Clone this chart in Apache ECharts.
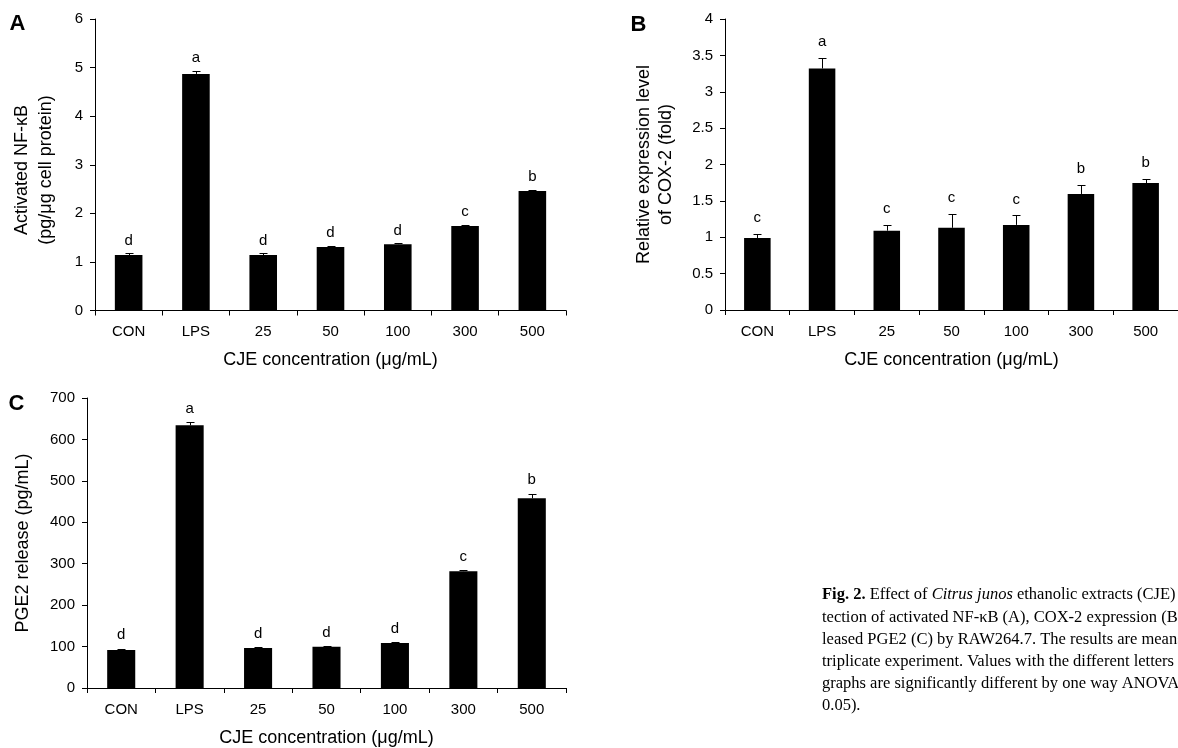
<!DOCTYPE html>
<html><head><meta charset="utf-8">
<script src="https://cdn.jsdelivr.net/npm/echarts@6/dist/echarts.min.js"></script>
<style>html,body{margin:0;padding:0;background:#fff;}#c{width:1178px;height:748px;}</style>
</head><body><div id="c"></div>
<script>
// ---- data ----
const categories = ['CON', 'LPS', '25', '50', '100', '300', '500'];
const xTitle = 'CJE concentration (μg/mL)';

const nfkbValues  = [1.14, 4.87, 1.14, 1.305, 1.365, 1.74, 2.46];
const nfkbErr     = [0.035, 0.06, 0.035, 0.025, 0.015, 0.015, 0.03];
const nfkbLetters = ['d', 'a', 'd', 'd', 'd', 'c', 'b'];

const cox2Values  = [0.99, 3.32, 1.09, 1.13, 1.17, 1.595, 1.745];
const cox2Err     = [0.05, 0.14, 0.075, 0.19, 0.13, 0.125, 0.055];
const cox2Letters = ['c', 'a', 'c', 'c', 'c', 'b', 'b'];

const pge2Values  = [91.5, 634, 96.5, 99.5, 108.5, 282, 458];
const pge2Err     = [3, 7, 2, 1.5, 1.5, 2, 11];
const pge2Letters = ['d', 'a', 'd', 'd', 'd', 'c', 'b'];

const yAxisA = { min: 0, max: 6, interval: 1 };
const yAxisB = { min: 0, max: 4, interval: 0.5 };
const yAxisC = { min: 0, max: 700, interval: 100 };

const captionLines = [
  '{b|Fig. 2.} Effect of {i|Citrus junos} ethanolic extracts (CJE) on the de-',
  'tection of activated NF-κB (A), COX-2 expression (B), and re-',
  'leased PGE2 (C) by RAW264.7. The results are means ± SD of',
  'triplicate experiment. Values with the different letters above',
  'graphs are significantly different by one way ANOVA test (p <',
  '0.05).'
];

// ---- chart ----
const FONT = '"Liberation Sans", Arial, Helvetica, sans-serif';
const SERIF = '"Liberation Serif", "Times New Roman", serif';
const chart = echarts.init(document.getElementById('c'), null, { renderer: 'canvas' });

const grids = [
  { left: 95, top: 19, width: 471, height: 291.5 },
  { left: 725, top: 19, width: 454, height: 291 },
  { left: 87, top: 398, width: 479, height: 291 }
];

function xAxis(i) {
  return {
    type: 'category', gridIndex: i, data: categories,
    axisLine: { lineStyle: { color: '#000', width: 1 } },
    axisTick: { show: true, inside: false, length: 5, alignWithLabel: false, lineStyle: { color: '#000' } },
    axisLabel: { color: '#000', fontSize: 15, margin: 14, fontFamily: FONT },
    name: xTitle, nameLocation: 'middle', nameGap: 41,
    nameTextStyle: { color: '#000', fontSize: 18, fontFamily: FONT }
  };
}
function yAxis(i, s) {
  return {
    type: 'value', gridIndex: i, min: s.min, max: s.max, interval: s.interval,
    axisLine: { show: true, lineStyle: { color: '#000', width: 1 } },
    axisTick: { show: true, inside: false, length: 5, lineStyle: { color: '#000' } },
    splitLine: { show: false },
    axisLabel: { color: '#000', fontSize: 15, margin: 12, fontFamily: FONT }
  };
}
function barSeries(i, vals) {
  return {
    type: 'bar', xAxisIndex: i, yAxisIndex: i, data: vals,
    barWidth: '41%', itemStyle: { color: '#000' }, silent: true
  };
}
function errSeries(i, vals, errs, letters, gap) {
  return {
    type: 'custom', xAxisIndex: i, yAxisIndex: i, z: 5, silent: true,
    data: vals.map((v, k) => [k, v, v + errs[k]]),
    renderItem: function (params, api) {
      const base = api.coord([api.value(0), api.value(1)]);
      const top = api.coord([api.value(0), api.value(2)]);
      const x = Math.round(base[0]) + 0.5;
      const yt = Math.round(top[1]) + 0.5;
      const cap = 4;
      return {
        type: 'group', children: [
          { type: 'line', shape: { x1: x, y1: base[1], x2: x, y2: yt }, style: { stroke: '#000', lineWidth: 1 } },
          { type: 'line', shape: { x1: x - cap, y1: yt, x2: x + cap, y2: yt }, style: { stroke: '#000', lineWidth: 1 } },
          { type: 'text', x: base[0], y: top[1] - gap,
            style: { text: letters[params.dataIndex], fill: '#000', fontSize: 15, fontFamily: FONT, align: 'center', verticalAlign: 'middle' } }
        ]
      };
    }
  };
}

function label(text, x, y, size, bold) {
  return { type: 'text', x: x, y: y, silent: true,
    style: { text: text, fill: '#000', fontSize: size, fontFamily: FONT, fontWeight: bold ? 'bold' : 'normal', align: 'center', verticalAlign: 'middle' } };
}
function vlabel(text, x, y) {
  return { type: 'text', x: x, y: y, rotation: Math.PI / 2, silent: true,
    style: { text: text, fill: '#000', fontSize: 18, fontFamily: FONT, align: 'center', verticalAlign: 'middle' } };
}

const graphics = [
  label('A', 17.5, 24, 22, true),
  label('B', 638.5, 24.5, 22, true),
  label('C', 16.5, 403.5, 22, true),
  vlabel('Activated NF-κB', 22.5, 170),
  vlabel('(pg/μg cell protein)', 46, 170),
  vlabel('Relative expression level', 644.5, 164.5),
  vlabel('of COX-2 (fold)', 666.5, 164.5),
  vlabel('PGE2 release (pg/mL)', 23, 543)
];
const CAP_SIZE = 16.5;
captionLines.forEach((t, k) => {
  graphics.push({ type: 'text', x: 822, y: 595 + k * 22.2, silent: true,
    style: { text: t, fill: '#000', fontSize: CAP_SIZE, fontFamily: SERIF, verticalAlign: 'middle',
      rich: { b: { fontWeight: 'bold', fontSize: CAP_SIZE, fontFamily: SERIF, fill: '#000' },
              i: { fontStyle: 'italic', fontSize: CAP_SIZE, fontFamily: SERIF, fill: '#000' } } } });
});

chart.setOption({
  animation: false,
  backgroundColor: '#fff',
  grid: grids,
  xAxis: [xAxis(0), xAxis(1), xAxis(2)],
  yAxis: [yAxis(0, yAxisA), yAxis(1, yAxisB), yAxis(2, yAxisC)],
  series: [
    barSeries(0, nfkbValues), errSeries(0, nfkbValues, nfkbErr, nfkbLetters, 13),
    barSeries(1, cox2Values), errSeries(1, cox2Values, cox2Err, cox2Letters, 16),
    barSeries(2, pge2Values), errSeries(2, pge2Values, pge2Err, pge2Letters, 13.5)
  ],
  graphic: graphics
});
</script></body></html>
